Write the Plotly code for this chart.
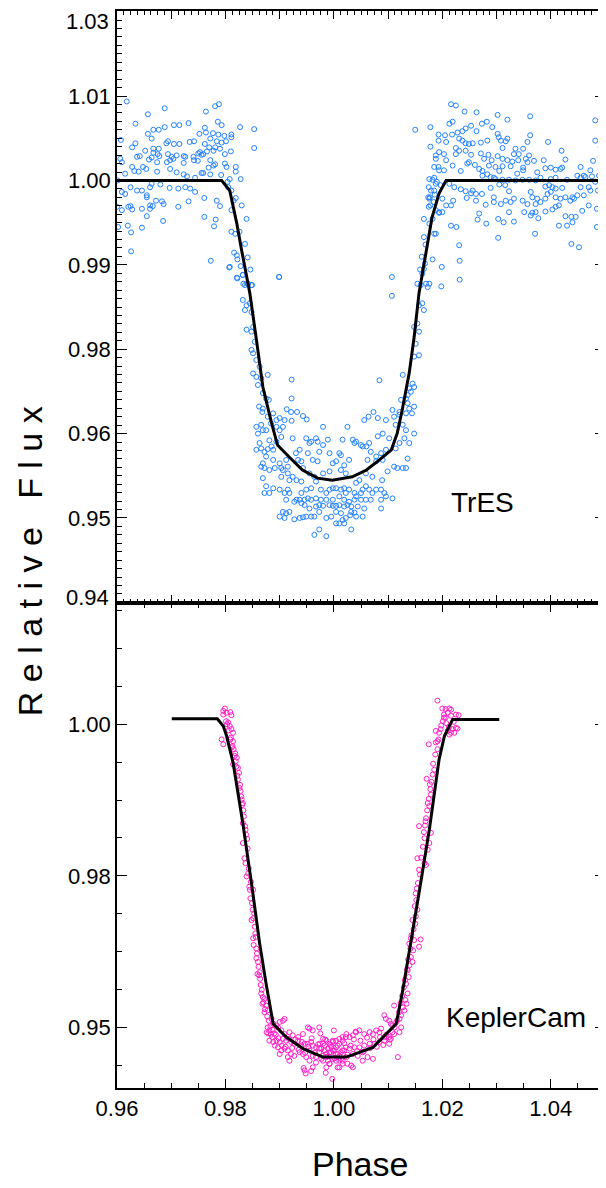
import plotly.graph_objects as go

# ---------------- TrES data (phase, relative flux) ----------------
tres_phase_left = [
0.9618,0.9688,0.9657,0.9764,0.9781,0.9788,0.9634,0.9705,0.9715,0.9732,
0.9786,0.9793,0.9827,0.9853,0.9667,0.9677,0.9657,0.9688,0.9752,0.9762,
0.9764,0.9777,0.9787,0.9798,0.9811,0.9811,0.9607,0.9664,0.9694,0.9691,
0.9705,0.9715,0.9734,0.9742,0.9772,0.9762,0.9784,0.9793,0.9801,0.9634,
0.9628,0.9652,0.9667,0.9677,0.9667,0.9675,0.9678,0.9694,0.9701,0.9710,
0.9723,0.9726,0.9741,0.9750,0.9756,0.9759,0.9766,0.9778,0.9781,0.9790,
0.9799,0.9810,0.9753,0.9770,0.9853,0.9606,0.9609,0.9637,0.9642,0.9659,
0.9664,0.9674,0.9692,0.9698,0.9704,0.9723,0.9742,0.9749,0.9772,0.9778,
0.9781,0.9799,0.9802,0.9819,0.9628,0.9632,0.9640,0.9648,0.9654,0.9674,
0.9698,0.9710,0.9723,0.9729,0.9744,0.9756,0.9759,0.9769,0.9772,0.9792,
0.9808,0.9819,0.9828,0.9615,0.9601,0.9625,0.9609,0.9615,0.9637,0.9646,
0.9661,0.9664,0.9680,0.9697,0.9713,0.9726,0.9735,0.9744,0.9655,0.9655,
0.9672,0.9683,0.9686,0.9784,0.9790,0.9625,0.9621,0.9609,0.9628,0.9646,
0.9661,0.9666,0.9661,0.9713,0.9732,0.9761,0.9600,0.9655,0.9685,0.9761,
0.9782,0.9779,0.9620,0.9646,0.9626,0.9602,0.9626,0.9773]
tres_flux_left = [
1.0142,1.0132,1.0123,1.0127,1.0135,1.0138,1.0109,1.0107,1.0107,1.0110,
1.0112,1.0107,1.0104,1.0101,1.0100,1.0100,1.0094,1.0104,1.0094,1.0103,
1.0096,1.0095,1.0093,1.0091,1.0093,1.0089,1.0085,1.0087,1.0083,1.0080,
1.0079,1.0079,1.0082,1.0083,1.0087,1.0079,1.0083,1.0081,1.0083,1.0080,
1.0074,1.0069,1.0072,1.0072,1.0066,1.0064,1.0061,1.0064,1.0060,1.0062,
1.0061,1.0060,1.0060,1.0065,1.0063,1.0064,1.0068,1.0069,1.0074,1.0072,
1.0064,1.0068,1.0067,1.0074,1.0073,1.0057,1.0052,1.0060,1.0061,1.0056,
1.0059,1.0052,1.0052,1.0055,1.0057,1.0051,1.0055,1.0054,1.0055,1.0047,
1.0049,1.0050,1.0045,1.0045,1.0045,1.0039,1.0038,1.0045,1.0042,1.0038,
1.0042,1.0037,1.0034,1.0031,1.0029,1.0036,1.0036,1.0044,1.0034,1.0033,
1.0027,1.0038,1.0027,1.0035,1.0025,1.0015,1.0008,1.0005,1.0010,1.0010,
1.0015,1.0020,1.0019,1.0014,1.0013,1.0015,1.0013,1.0008,1.0003,1.0000,
0.9995,0.9994,0.9990,0.9995,0.9987,0.9987,0.9986,0.9981,0.9982,0.9983,
0.9988,0.9987,0.9983,0.9986,0.9994,0.9999,0.9986,0.9972,0.9965,0.9971,
0.9967,0.9957,0.9958,0.9955,0.9948,0.9956,0.9920,0.9906]

tres_phase_ingress = [0.9804,0.9805,0.9811,0.9819,0.9815,0.9830,0.9811,0.9839,0.9811,0.9818,
0.9826,0.9836,0.9816,0.9821,0.9841,0.9822,0.9828,0.9807,0.9846,0.9832,
0.9822,0.9899,0.9833,0.9840,0.9849]
tres_flux_ingress = [1.0023,1.0015,1.0010,0.9999,0.9995,0.9988,0.9981,0.9968,0.9949,0.9946,
0.9949,0.9931,0.9918,0.9914,0.9911,0.9908,0.9898,0.9896,0.9893,0.9885,
0.9880,0.9882,0.9872,0.9872,0.9870]

tres_phase_dip = [
0.9808,0.9821,0.9832,0.9836,0.9842,0.9848,0.9832,0.9839,0.9836,0.9845,
0.9848,0.9851,0.9839,0.9848,0.9854,0.9848,0.9851,0.9857,0.9851,0.9857,
0.9866,0.9863,0.9878,0.9860,0.9869,0.9875,0.9880,0.9862,0.9869,0.9868,
0.9888,0.9878,0.9894,0.9884,0.9900,0.9909,0.9922,0.9922,0.9913,0.9921,
0.9932,0.9943,0.9950,0.9922,0.9899,0.9857,0.9860,0.9866,0.9869,0.9875,
0.9881,0.9894,0.9900,0.9906,0.9903,0.9894,0.9885,0.9863,0.9857,0.9866,
0.9872,0.9878,0.9888,0.9875,0.9888,0.9900,0.9912,0.9869,0.9866,0.9872,
0.9881,0.9891,0.9903,0.9915,0.9924,0.9930,0.9937,0.9934,0.9940,0.9949,
0.9955,0.9958,0.9967,0.9970,0.9980,0.9989,0.9980,1.0016,1.0025,1.0035,
1.0038,1.0041,1.0050,1.0053,1.0060,1.0065,1.0056,1.0064,1.0073,1.0081,
1.0081,1.0090,1.0096,1.0102,1.0108,1.0111,1.0114,1.0121,1.0127,1.0133,
1.0139,1.0148,1.0130,1.0121,1.0114,1.0096,1.0087,1.0078,1.0068,1.0062,
1.0078,1.0090,1.0099,1.0111,1.0117,1.0127,1.0133,1.0136,1.0089,1.0059,
1.0071,1.0047,1.0041,1.0022,1.0013,0.9998,0.9992,0.9980,0.9992,1.0004,
1.0010,1.0013,1.0019,1.0028,0.9952,0.9961,0.9970,0.9973,0.9943,0.9955,
0.9964,0.9967,0.9958,0.9949,0.9940,0.9931,0.9924,0.9918,0.9915,0.9903,
0.9906,0.9900,0.9888,0.9875,0.9881,0.9872,0.9869,0.9915,0.9918,0.9909,
0.9931,0.9937,0.9940,0.9946,0.9952,0.9958,0.9967,0.9976,0.9986,0.9992,
0.9998,1.0004,1.0013,1.0019,1.0022,1.0028,1.0038,1.0041,1.0050,1.0053,
1.0059,1.0065,1.0071,1.0078,1.0087,1.0093,1.0087,1.0096,1.0108,1.0059,
1.0068,1.0050,1.0038,1.0028,1.0019,1.0010,0.9998,0.9986,0.9976,0.9973,
0.9980,0.9992,0.9998,1.0004,1.0010,1.0019,1.0025,1.0032,1.0044,0.9967,
0.9955,0.9946,0.9940,0.9927,0.9912,0.9918,0.9912,0.9906,0.9900,0.9909,
0.9927,0.9937,0.9943,0.9949,0.9958,0.9964,0.9973,0.9986,0.9995,1.0004,
1.0010,1.0016,1.0022,1.0032,1.0038,1.0041,1.0030,1.0053,1.0087,1.0056,
1.0004,1.0013,0.9964,0.9973,0.9986,1.0032,1.0019,1.0107,1.0107,1.0084,
1.0127,1.0139,1.0142,1.0145,1.0148,1.0136,1.0133,1.0124,1.0136,1.0139,
1.0133,1.0121,1.0144,1.0148,1.0157,1.0148,1.0151,1.0148,1.0157,1.0154,
1.0157,1.0163,1.0166,1.0160,1.0163,1.0166,1.0170,1.0173,1.0168]
tres_flux_dip = [
0.9897,0.9881,0.9885,0.9870,0.9872,0.9870,0.9848,0.9840,0.9833,0.9843,
0.9830,0.9808,0.9804,0.9801,0.9786,0.9774,0.9769,0.9759,0.9739,0.9734,
0.9732,0.9749,0.9737,0.9722,0.9710,0.9702,0.9700,0.9690,0.9687,0.9682,
0.9680,0.9675,0.9670,0.9665,0.9673,0.9670,0.9730,0.9702,0.9686,0.9682,
0.9682,0.9676,0.9671,0.9669,0.9882,0.9660,0.9650,0.9663,0.9655,0.9655,
0.9640,0.9660,0.9655,0.9660,0.9645,0.9638,0.9631,0.9636,0.9626,0.9628,
0.9623,0.9627,0.9626,0.9616,0.9611,0.9606,0.9611,0.9606,0.9601,0.9599,
0.9596,0.9599,0.9599,0.9601,0.9643,0.9621,0.9626,0.9611,0.9609,0.9643,
0.9636,0.9638,0.9643,0.9638,0.9633,0.9641,0.9660,0.9641,0.9660,0.9641,
0.9636,0.9638,0.9633,0.9631,0.9631,0.9636,0.9670,0.9675,0.9682,0.9673,
0.9646,0.9650,0.9670,0.9643,0.9685,0.9675,0.9663,0.9682,0.9663,0.9655,
0.9636,0.9650,0.9643,0.9636,0.9628,0.9626,0.9621,0.9616,0.9623,0.9611,
0.9609,0.9611,0.9594,0.9601,0.9599,0.9599,0.9599,0.9613,0.9581,0.9591,
0.9586,0.9581,0.9577,0.9591,0.9596,0.9606,0.9594,0.9591,0.9621,0.9609,
0.9621,0.9618,0.9603,0.9611,0.9621,0.9611,0.9609,0.9623,0.9599,0.9591,
0.9586,0.9579,0.9569,0.9567,0.9579,0.9581,0.9586,0.9581,0.9591,0.9586,
0.9596,0.9567,0.9569,0.9572,0.9562,0.9562,0.9584,0.9567,0.9562,0.9562,
0.9552,0.9552,0.9562,0.9552,0.9554,0.9552,0.9554,0.9567,0.9562,0.9567,
0.9569,0.9569,0.9567,0.9569,0.9562,0.9567,0.9562,0.9557,0.9562,0.9567,
0.9572,0.9567,0.9562,0.9567,0.9567,0.9562,0.9552,0.9557,0.9554,0.9552,
0.9552,0.9552,0.9552,0.9549,0.9552,0.9557,0.9552,0.9552,0.9552,0.9544,
0.9543,0.9544,0.9543,0.9543,0.9544,0.9542,0.9544,0.9542,0.9542,0.9542,
0.9539,0.9544,0.9547,0.9549,0.9552,0.9534,0.9532,0.9534,0.9527,0.9525,
0.9523,0.9525,0.9526,0.9527,0.9527,0.9527,0.9534,0.9525,0.9527,0.9517,
0.9517,0.9522,0.9525,0.9534,0.9533,0.9527,0.9529,0.9527,0.9539,0.9539,
0.9534,0.9532,0.9500,0.9508,0.9498,0.9508,0.9517,0.9882,0.9854,0.9729,
0.9737,0.9717,0.9712,0.9724,0.9719,0.9707,0.9702,0.9700,0.9695,0.9687,
0.9680,0.9678,0.9680,0.9690,0.9766,0.9764,0.9783,0.9808,0.9801,0.9813,
0.9840,0.9843,0.9833,0.9870,0.9887,0.9894,0.9872,0.9867,0.9902]

tres_phase_right = [
1.0150,1.0178,1.0216,1.0225,1.0241,1.0263,1.0302,1.0320,1.0362,1.0482,
1.0213,1.0219,1.0193,1.0205,1.0178,1.0193,1.0207,1.0218,1.0228,1.0237,
1.0243,1.0253,1.0263,1.0273,1.0282,1.0292,1.0302,1.0304,1.0320,1.0362,
1.0395,1.0482,1.0492,1.0231,1.0237,1.0243,1.0249,1.0256,1.0271,1.0283,
1.0308,1.0317,1.0357,1.0225,1.0231,1.0243,1.0253,1.0225,1.0194,1.0188,
1.0203,1.0207,1.0188,1.0193,1.0203,1.0185,1.0194,1.0219,1.0234,1.0246,
1.0249,1.0260,1.0268,1.0271,1.0277,1.0285,1.0291,1.0302,1.0311,1.0311,
1.0320,1.0329,1.0335,1.0340,1.0349,1.0354,1.0357,1.0360,1.0369,1.0332,
1.0341,1.0349,1.0338,1.0326,1.0311,1.0298,1.0286,1.0274,1.0274,1.0283,
1.0295,1.0305,1.0375,1.0387,1.0390,1.0400,1.0409,1.0418,1.0421,1.0420,
1.0427,1.0449,1.0455,1.0461,1.0473,1.0478,1.0492,1.0489,1.0476,1.0464,
1.0455,1.0430,1.0409,1.0400,1.0381,1.0372,1.0360,1.0348,1.0335,1.0323,
1.0311,1.0298,1.0289,1.0176,1.0175,1.0182,1.0188,1.0185,1.0186,1.0197,
1.0213,1.0222,1.0234,1.0243,1.0253,1.0256,1.0262,1.0273,1.0289,1.0295,
1.0305,1.0316,1.0323,1.0332,1.0326,1.0317,1.0308,1.0295,1.0280,1.0262,
1.0245,1.0220,1.0207,1.0216,1.0200,1.0200,1.0194,1.0174,1.0176,1.0175,
1.0268,1.0265,1.0281,1.0303,1.0313,1.0323,1.0332,1.0351,1.0363,1.0366,
1.0372,1.0377,1.0390,1.0403,1.0409,1.0415,1.0418,1.0427,1.0440,1.0436,
1.0443,1.0449,1.0455,1.0461,1.0470,1.0473,1.0482,1.0487,1.0497,1.0498,
1.0485,1.0470,1.0458,1.0446,1.0438,1.0427,1.0440,1.0430,1.0438,1.0452,
1.0485,1.0415,1.0371,1.0390,1.0403,1.0409,1.0421,1.0400,1.0394,1.0375,
1.0366,1.0381,1.0372,1.0357,1.0348,1.0363,1.0390,1.0397,1.0409,1.0349,
1.0226,1.0216,1.0231,1.0232,1.0199,1.0198,1.0232,1.0303,1.0166,1.0176,
1.0185,1.0188,1.0166,1.0169,1.0182,1.0162,1.0159,1.0154,1.0176,1.0185,
1.0190,1.0179,1.0177,1.0184,1.0188,1.0194,1.0182,1.0178]
tres_flux_right = [
1.0100,1.0104,1.0138,1.0136,1.0127,1.0126,1.0122,1.0115,1.0120,1.0114,
1.0109,1.0112,1.0093,1.0092,1.0075,1.0084,1.0082,1.0093,1.0096,1.0098,
1.0102,1.0106,1.0098,1.0109,1.0112,1.0104,1.0094,1.0089,1.0087,1.0092,
1.0082,1.0084,1.0074,1.0087,1.0084,1.0080,1.0079,1.0080,1.0081,1.0084,
1.0084,1.0083,1.0082,1.0073,1.0069,1.0069,1.0063,1.0064,1.0067,1.0062,
1.0064,1.0055,1.0057,1.0045,1.0040,1.0045,1.0040,1.0047,1.0039,1.0050,
1.0052,1.0048,1.0042,1.0065,1.0057,1.0063,1.0055,1.0061,1.0057,1.0073,
1.0055,1.0053,1.0072,1.0055,1.0072,1.0057,1.0052,1.0062,1.0054,1.0064,
1.0064,1.0044,1.0035,1.0046,1.0046,1.0045,1.0047,1.0039,1.0032,1.0034,
1.0029,1.0039,1.0037,1.0055,1.0043,1.0044,1.0041,1.0042,1.0044,1.0069,
1.0056,1.0032,1.0045,1.0032,1.0040,1.0054,1.0060,1.0032,1.0031,1.0030,
1.0029,1.0026,1.0029,1.0027,1.0029,1.0025,1.0026,1.0026,1.0025,1.0026,
1.0026,1.0027,1.0030,1.0027,1.0015,1.0026,1.0020,1.0010,1.0004,1.0018,
1.0020,1.0015,1.0012,1.0009,1.0006,1.0010,1.0005,1.0005,1.0014,1.0000,
1.0019,1.0018,1.0009,0.9998,0.9993,0.9995,0.9990,0.9993,0.9989,0.9995,
0.9999,0.9995,0.9988,0.9988,0.9998,0.9978,0.9978,1.0000,0.9998,0.9986,
0.9976,0.9967,0.9961,0.9968,0.9963,0.9978,0.9964,0.9978,0.9973,0.9977,
0.9978,0.9969,0.9979,0.9982,0.9986,0.9988,0.9998,1.0000,1.0000,0.9995,
0.9998,1.0003,1.0015,1.0003,1.0015,1.0010,1.0023,1.0010,1.0004,0.9990,
0.9983,0.9988,0.9980,0.9971,0.9971,0.9972,0.9963,0.9958,0.9931,0.9926,
0.9956,0.9958,0.9946,1.0016,1.0015,1.0013,1.0014,1.0008,1.0005,0.9998,
1.0000,0.9993,0.9990,0.9990,0.9995,1.0008,0.9998,1.0018,1.0000,1.0040,
0.9956,0.9958,0.9929,0.9906,0.9897,0.9868,0.9878,0.9940,0.9968,0.9961,
0.9946,0.9946,0.9941,0.9930,0.9908,0.9912,0.9893,0.9872,0.9872,1.0029,
1.0023,1.0010,1.0000,0.9993,0.9981,0.9977,0.9968,0.9988]

tres_model_phase = [0.9600,0.9793,0.9808,0.9821,0.9830,0.9845,0.9858,0.9869,0.9885,0.9896,
                    0.9918,0.9942,0.9970,0.9997,1.0034,1.0060,1.0084,1.0106,1.0117,1.0126,
                    1.0139,1.0148,1.0157,1.0167,1.0181,1.0194,1.0207,1.0500]
tres_model_flux = [1.0025,1.0025,1.0010,0.9961,0.9921,0.9858,0.9784,0.9719,0.9666,0.9633,
                   0.9615,0.9596,0.9584,0.9581,0.9586,0.9596,0.9611,0.9626,0.9651,0.9685,
                   0.9740,0.9793,0.9858,0.9907,0.9970,1.0006,1.0025,1.0025]

# ---------------- KeplerCam data ----------------
kc_phase_a = [
0.9799,0.9796,0.9802,0.9809,0.9811,0.9796,0.9801,0.9805,0.9803,0.9808,
0.9811,0.9814,0.9793,0.9796,0.9809,0.9814,0.9813,0.9815,0.9817,0.9821,
0.9819,0.9814,0.9823,0.9825,0.9823,0.9826,0.9828,0.9829,0.9832,0.9831,
0.9834,0.9832,0.9837,0.9840,0.9832,0.9835,0.9837,0.9839,0.9842,0.9844,
0.9845,0.9851,0.9846,0.9850,0.9848,0.9851,0.9854,0.9851,0.9856,0.9852,
0.9857,0.9857,0.9860,0.9863,0.9862,0.9864,0.9859,0.9866,0.9869,0.9872,
0.9868,0.9875,0.9872,0.9878,0.9880,0.9885,0.9888,0.9878,0.9881,0.9886,
0.9894,0.9900,0.9906,0.9909,0.9897,0.9903,0.9909,0.9918,0.9924,0.9934,
0.9943,0.9952,0.9955,0.9961,0.9973,0.9881,0.9888,0.9894,0.9900,0.9906,
0.9912,0.9921,0.9927,0.9934,0.9940,0.9946,0.9952,0.9958,0.9961,0.9967,
0.9973,0.9980,0.9986,0.9992,0.9998,1.0004,1.0010,1.0016,1.0022,0.9891,
0.9897,0.9903,0.9909,0.9915,0.9921,0.9927,0.9937,0.9943,0.9949,0.9955,
0.9961,0.9967,0.9973,0.9980,0.9986,0.9992,0.9998,1.0004,1.0010,1.0016,
1.0022,0.9900,0.9915,0.9918,0.9955,0.9967,0.9989,0.9992,1.0004,1.0016,
0.9946,0.9961,1.0007,1.0025,0.9997,0.9948,0.9944,0.9985,0.9958]
kc_flux_a = [
1.0026,1.0022,1.0019,1.0020,1.0015,1.0016,1.0005,1.0003,1.0000,0.9997,
0.9992,0.9986,0.9975,0.9967,0.9975,0.9972,0.9964,0.9959,0.9948,0.9945,
0.9939,0.9934,0.9928,0.9920,0.9909,0.9895,0.9890,0.9881,0.9870,0.9867,
0.9848,0.9837,0.9826,0.9811,0.9804,0.9779,0.9771,0.9749,0.9754,0.9732,
0.9727,0.9727,0.9713,0.9694,0.9677,0.9680,0.9666,0.9647,0.9649,0.9636,
0.9630,0.9614,0.9608,0.9591,0.9586,0.9580,0.9588,0.9556,0.9550,0.9547,
0.9539,0.9536,0.9525,0.9528,0.9511,0.9514,0.9506,0.9500,0.9495,0.9484,
0.9503,0.9509,0.9511,0.9514,0.9500,0.9495,0.9489,0.9492,0.9487,0.9484,
0.9489,0.9500,0.9498,0.9495,0.9500,0.9478,0.9476,0.9478,0.9476,0.9481,
0.9478,0.9476,0.9473,0.9478,0.9470,0.9473,0.9473,0.9476,0.9470,0.9467,
0.9465,0.9473,0.9478,0.9473,0.9478,0.9467,0.9473,0.9478,0.9484,0.9470,
0.9467,0.9462,0.9465,0.9462,0.9456,0.9453,0.9459,0.9456,0.9451,0.9462,
0.9453,0.9451,0.9459,0.9453,0.9456,0.9459,0.9462,0.9456,0.9453,0.9462,
0.9467,0.9456,0.9451,0.9445,0.9445,0.9442,0.9445,0.9440,0.9445,0.9445,
0.9429,0.9434,0.9434,0.9440,0.9415,0.9424,0.9433,0.9425,0.9428]

kc_phase_b = [
1.0191,1.0200,1.0206,1.0213,1.0216,1.0210,1.0203,1.0203,1.0201,1.0206,
1.0216,1.0225,1.0230,1.0219,1.0225,1.0216,1.0213,1.0210,1.0222,1.0228,
1.0197,1.0188,1.0194,1.0191,1.0188,1.0191,1.0175,1.0185,1.0182,1.0171,
1.0177,1.0179,1.0175,1.0173,1.0176,1.0170,1.0157,1.0168,1.0179,1.0167,
1.0176,1.0173,1.0167,1.0170,1.0154,1.0157,1.0153,1.0151,1.0154,1.0151,
1.0150,1.0145,1.0142,1.0148,1.0139,1.0146,1.0160,1.0157,1.0142,1.0145,
1.0139,1.0136,1.0138,1.0133,1.0136,1.0132,1.0134,1.0127,1.0111,1.0130,
1.0124,1.0121,1.0115,1.0105,1.0096,1.0093,1.0102,1.0108,1.0124,1.0121,
1.0111,1.0102,1.0093,1.0084,1.0087,1.0078,1.0072,1.0066,1.0056,1.0047,
1.0041,1.0035,1.0029,1.0023,1.0016,1.0010,1.0004,0.9998,0.9994,0.9984,
0.9980,0.9974,0.9977,0.9983,0.9989,0.9995,1.0001,1.0007,1.0013,1.0019,
1.0029,1.0038,1.0047,1.0056,1.0066,1.0075,1.0084,1.0093,1.0102,1.0105,
1.0053,1.0044,1.0035,1.0023,1.0010,0.9998,0.9986,0.9980,0.9992,1.0016,
1.0032,1.0053,1.0062,1.0072,1.0035,1.0118,1.0010,0.9986]
kc_flux_b = [
1.0039,1.0026,1.0025,1.0026,1.0024,1.0019,1.0016,1.0011,1.0005,1.0011,
1.0014,1.0016,1.0015,0.9992,0.9994,0.9986,0.9983,0.9989,0.9986,0.9993,
0.9992,0.9989,0.9986,0.9972,0.9970,0.9959,0.9967,0.9925,0.9917,0.9910,
0.9901,0.9884,0.9877,0.9870,0.9865,0.9845,0.9832,0.9833,0.9821,0.9812,
0.9804,0.9793,0.9771,0.9768,0.9779,0.9760,0.9729,0.9721,0.9694,0.9683,
0.9671,0.9677,0.9647,0.9644,0.9638,0.9627,0.9645,0.9633,0.9616,0.9608,
0.9602,0.9594,0.9583,0.9572,0.9556,0.9545,0.9539,0.9533,0.9536,0.9528,
0.9520,0.9514,0.9509,0.9506,0.9514,0.9520,0.9511,0.9503,0.9500,0.9492,
0.9489,0.9484,0.9484,0.9492,0.9498,0.9495,0.9489,0.9492,0.9489,0.9495,
0.9492,0.9487,0.9484,0.9489,0.9484,0.9481,0.9478,0.9476,0.9471,0.9480,
0.9481,0.9473,0.9465,0.9462,0.9465,0.9459,0.9462,0.9456,0.9459,0.9462,
0.9465,0.9467,0.9467,0.9470,0.9473,0.9473,0.9476,0.9478,0.9473,0.9481,
0.9459,0.9453,0.9456,0.9451,0.9445,0.9448,0.9451,0.9445,0.9440,0.9440,
0.9437,0.9445,0.9451,0.9448,0.9434,0.9451,0.9434,0.9434]

kc_phase_c = [
0.9806,0.9810,0.9812,0.9818,0.9820,0.9822,0.9827,0.9830,0.9833,0.9836,
0.9838,0.9841,0.9843,0.9847,0.9849,0.9853,0.9855,0.9858,0.9861,0.9865,
0.9867,0.9870,0.9873,0.9877,0.9883,0.9887,0.9890,0.9884,0.9879,0.9876,
1.0112,1.0117,1.0120,1.0123,1.0126,1.0129,1.0131,1.0135,1.0137,1.0141,
1.0143,1.0147,1.0149,1.0152,1.0155,1.0159,1.0161,1.0164,1.0166,1.0169,
1.0172,1.0178,1.0180,1.0183,1.0187,1.0193,1.0198,1.0207,1.0212,1.0221,
0.9893,0.9898,0.9904,0.9911,0.9917,0.9923,0.9929,0.9935,0.9941,0.9947,
0.9953,0.9959,0.9965,0.9971,0.9977,0.9983,0.9989,0.9995,1.0001,1.0007,
1.0013,1.0019,1.0025,1.0031,1.0037,1.0043,1.0049,1.0055,1.0061,1.0067,
1.0073,1.0079,1.0085,1.0091,1.0097,1.0103,1.0108,0.9975,1.0000,1.0040]
kc_flux_c = [
0.9990,0.9978,0.9962,0.9952,0.9930,0.9915,0.9900,0.9876,0.9858,0.9832,
0.9818,0.9795,0.9762,0.9740,0.9705,0.9688,0.9655,0.9622,0.9600,0.9570,
0.9562,0.9541,0.9530,0.9518,0.9502,0.9496,0.9490,0.9488,0.9490,0.9492,
0.9500,0.9512,0.9525,0.9540,0.9552,0.9566,0.9578,0.9596,0.9612,0.9630,
0.9652,0.9662,0.9700,0.9710,0.9738,0.9752,0.9780,0.9798,0.9822,0.9840,
0.9858,0.9893,0.9905,0.9935,0.9950,0.9975,0.9998,1.0002,0.9995,1.0004,
0.9488,0.9482,0.9470,0.9468,0.9481,0.9466,0.9480,0.9463,0.9476,0.9458,
0.9468,0.9482,0.9458,0.9472,0.9448,0.9470,0.9452,0.9468,0.9449,0.9470,
0.9448,0.9474,0.9455,0.9470,0.9480,0.9461,0.9478,0.9460,0.9483,0.9466,
0.9480,0.9468,0.9484,0.9471,0.9488,0.9480,0.9492,0.9490,0.9495,0.9493]

kc_model_phase = [0.9701,0.9785,0.9796,0.9802,0.9814,0.9832,0.9848,0.9863,0.9875,0.9888,
                  0.9912,0.9943,0.9980,1.0023,1.0072,1.0115,1.0127,1.0139,1.0158,1.0176,
                  1.0194,1.0204,1.0219,1.0305]
kc_model_flux = [1.0009,1.0009,0.9997,0.9981,0.9937,0.9837,0.9738,0.9639,0.9572,0.9506,
                 0.9484,0.9465,0.9451,0.9451,0.9467,0.9506,0.9561,0.9628,0.9727,0.9826,
                 0.9942,0.9981,1.0008,1.0008]

# ---------------- tick labels ----------------
top_y_tickvals = [0.94, 0.9525, 0.965, 0.9775, 0.99, 1.0025, 1.015, 1.0275]
top_y_ticktext = ["", "0.95", "0.96", "0.98", "0.99", "1.00", "1.01", ""]
top_y_edge_labels = ["1.03", "0.94"]
bot_y_tickvals = [0.95, 0.975, 1.00]
bot_y_ticktext = ["0.95", "0.98", "1.00"]
x_tickvals = [0.96, 0.98, 1.00, 1.02, 1.04]
x_ticktext = ["0.96", "0.98", "1.00", "1.02", "1.04"]

tres_phase = tres_phase_left + tres_phase_ingress + tres_phase_dip + tres_phase_right
tres_flux = tres_flux_left + tres_flux_ingress + tres_flux_dip + tres_flux_right
kc_phase = kc_phase_a + kc_phase_b + kc_phase_c
kc_flux = kc_flux_a + kc_flux_b + kc_flux_c

FONT = "Liberation Sans, Arial, Helvetica, sans-serif"
BLUE = "#2382ff"
PINK = "#ff1fc8"
TICKSIZE = 22

fig = go.Figure()
fig.add_trace(go.Scatter(x=tres_phase, y=tres_flux, mode="markers", xaxis="x2", yaxis="y2",
                         marker=dict(symbol="circle-open", size=5, color=BLUE, line=dict(width=1, color=BLUE)),
                         showlegend=False, hoverinfo="skip"))
fig.add_trace(go.Scatter(x=tres_model_phase, y=tres_model_flux, mode="lines", xaxis="x2", yaxis="y2",
                         line=dict(color="black", width=3), showlegend=False, hoverinfo="skip"))
fig.add_trace(go.Scatter(x=kc_phase, y=kc_flux, mode="markers", xaxis="x", yaxis="y",
                         marker=dict(symbol="circle-open", size=5, color=PINK, line=dict(width=1, color=PINK)),
                         showlegend=False, hoverinfo="skip"))
fig.add_trace(go.Scatter(x=kc_model_phase, y=kc_model_flux, mode="lines", xaxis="x", yaxis="y",
                         line=dict(color="black", width=3), showlegend=False, hoverinfo="skip"))

split = 0.4503
common = dict(showline=True, linecolor="black", linewidth=1.5, mirror="ticks", ticks="inside",
              tickcolor="black", tickwidth=1, showgrid=False, zeroline=False, automargin=False,
              tickfont=dict(family=FONT, size=TICKSIZE, color="black"))

# The page adds an 8 px body margin; the figure is sized so the plot area lands
# at x 117..605, y 11..1088 of the 606x1188 window.
fig.update_layout(
    template="none",
    width=598, height=1180,
    margin=dict(l=109, r=1, t=3, b=100),
    paper_bgcolor="white", plot_bgcolor="white",
    font=dict(family=FONT, color="black"),
    xaxis=dict(domain=[0, 1], anchor="y", range=[0.96, 1.05], tickmode="array",
               tickvals=x_tickvals, ticktext=x_ticktext, ticklen=9,
               minor=dict(ticks="inside", tickmode="linear", tick0=0.96, dtick=0.005,
                          ticklen=5, tickcolor="black", tickwidth=1), **common),
    yaxis=dict(domain=[0, split], anchor="x", range=[0.94, 1.02], tickmode="array",
               tickvals=bot_y_tickvals, ticktext=bot_y_ticktext, ticklen=10,
               minor=dict(ticks="inside", tickmode="linear", tick0=0.95, dtick=0.00625,
                          ticklen=5, tickcolor="black", tickwidth=1), **common),
    xaxis2=dict(domain=[0, 1], anchor="y2", range=[0.96, 1.05], tickmode="linear",
                tick0=0.96, dtick=0.01, ticklen=8, showticklabels=False,
                minor=dict(ticks="inside", tickmode="linear", tick0=0.96, dtick=0.00125,
                           ticklen=4, tickcolor="black", tickwidth=1), **common),
    yaxis2=dict(domain=[split, 1], anchor="x2", range=[0.9399, 1.0276], tickmode="array",
                tickvals=top_y_tickvals, ticktext=top_y_ticktext, ticklen=10,
                minor=dict(ticks="inside", tickmode="linear", tick0=0.94, dtick=0.00125,
                           ticklen=5, tickcolor="black", tickwidth=1), **common),
)

# edge labels of the upper panel's flux axis (drawn slightly inward, as in the original)
fig.add_annotation(text=top_y_edge_labels[0], xref="paper", yref="paper", x=-0.012, y=0.9905,
                   xanchor="right", yanchor="middle", showarrow=False,
                   font=dict(family=FONT, size=TICKSIZE, color="black"))
fig.add_annotation(text=top_y_edge_labels[1], xref="paper", yref="paper", x=-0.012, y=0.455,
                   xanchor="right", yanchor="middle", showarrow=False,
                   font=dict(family=FONT, size=TICKSIZE, color="black"))

nb = "\u00a0"
ytitle = nb.join(list("Relative")) + nb * 3 + nb.join(list("Flux"))
fig.add_annotation(text=ytitle, xref="paper", yref="paper", x=-0.178, y=0.4893,
                   xanchor="center", yanchor="middle", textangle=-90, showarrow=False,
                   font=dict(family=FONT, size=34, color="black"))
fig.add_annotation(text="Phase", xref="paper", yref="paper", x=0.498, y=-0.0706,
                   xanchor="center", yanchor="middle", showarrow=False,
                   font=dict(family=FONT, size=34, color="black"))
fig.add_annotation(text="TrES", xref="paper", yref="paper", x=0.748, y=0.5432,
                   xanchor="center", yanchor="middle", showarrow=False,
                   font=dict(family=FONT, size=28, color="black"))
fig.add_annotation(text="KeplerCam", xref="paper", yref="paper", x=0.8176, y=0.0659,
                   xanchor="center", yanchor="middle", showarrow=False,
                   font=dict(family=FONT, size=28, color="black"))

fig.write_html("out.html")
